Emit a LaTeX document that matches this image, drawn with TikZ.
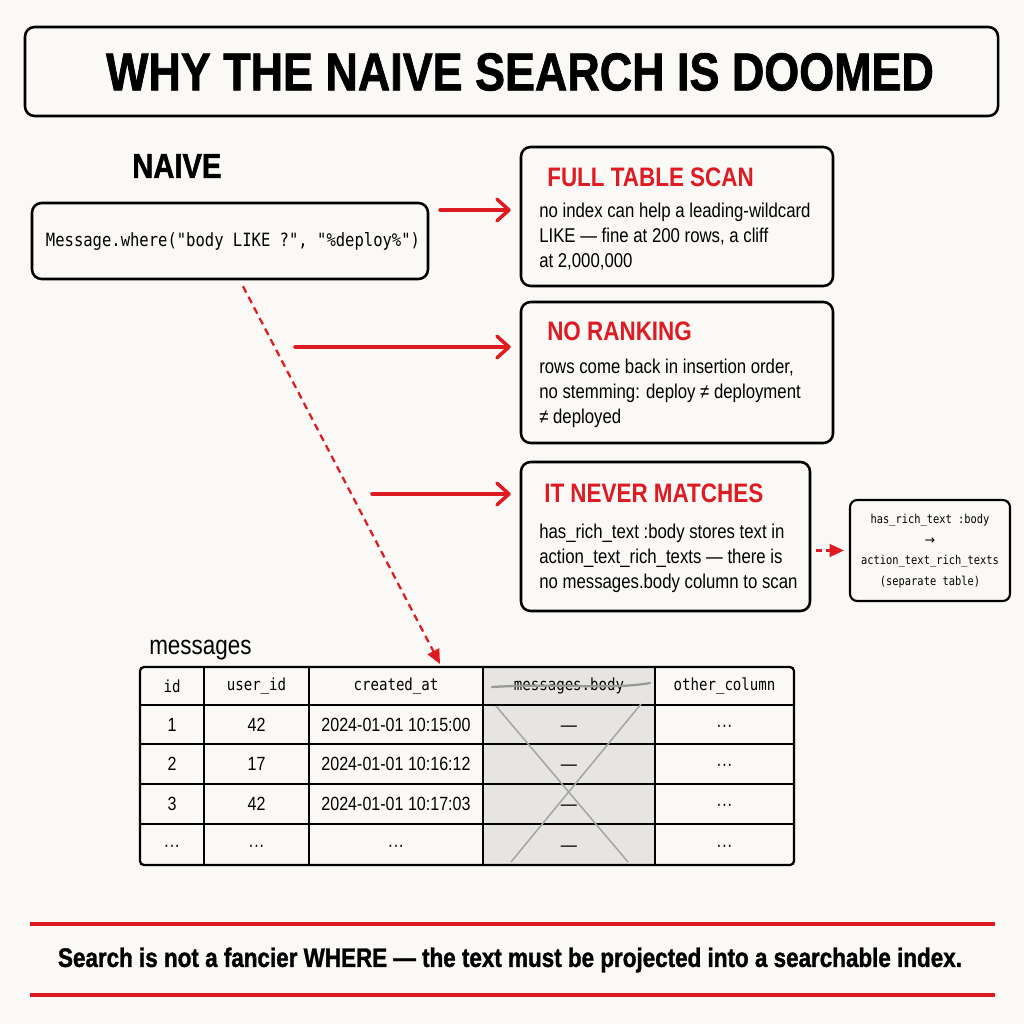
\documentclass[tikz,border=0pt]{standalone}
\usepackage{fontspec}
\setmainfont{Liberation Sans}
\setmonofont{DejaVu Sans Mono}
\newfontfamily\condfont[FakeStretch=0.84]{Liberation Sans}
\newfontfamily\heavyfont[FakeStretch=0.84, BoldFeatures={FakeBold=1.3}]{Liberation Sans}
\newfontfamily\codefont[FakeStretch=0.85]{DejaVu Sans Mono}
\newfontfamily\symfont{DejaVu Sans}
\usepackage{xcolor}
\usetikzlibrary{positioning,arrows.meta,calc}
\definecolor{paper}{HTML}{FAF9F5}
\definecolor{alarm}{HTML}{DE1A22}
\definecolor{cellgray}{HTML}{E6E5E1}
\def\px{0.25mm}

\begin{document}
\begin{tikzpicture}[x=0.25mm, y=-0.25mm,
  box/.style={draw, line width=1.8pt, rounded corners=2.4mm, inner sep=0pt},
  hd/.style={anchor=west, text=alarm, inner sep=0pt, font=\condfont\fontsize{19}{22}\selectfont\bfseries},
  txt/.style={anchor=west, align=left, inner sep=0pt, font=\condfont\fontsize{14.2}{17.8}\selectfont},
  cell/.style={inner sep=0pt, text height=9.6pt, text depth=0pt, font=\condfont\fontsize{13.6}{15}\selectfont},
  hcell/.style={inner sep=0pt, font=\codefont\fontsize{11.8}{14}\selectfont},
  arr/.style={alarm, line width=2.5pt, line cap=round, -{Straight Barb[length=3mm, width=5.4mm, round]}},
  darr/.style={alarm, line width=1.6pt, dash pattern=on 5pt off 3.5pt, -{Triangle[length=3.6mm, width=3.2mm]}}]
\fill[paper] (0,0) rectangle (1024,1024);
\useasboundingbox (0,0) rectangle (1024,1024);

\node[box, minimum width=973*\px, minimum height=89*\px] (title) at (511.5,71.5) {};
\node[font=\heavyfont\fontsize{38}{44}\selectfont\bfseries] (titletxt) at (520,72) {WHY THE NAIVE SEARCH IS DOOMED};

\node[anchor=west, inner sep=0pt, font=\heavyfont\fontsize{24.7}{28}\selectfont\bfseries] (naive) at (132,166) {NAIVE};
\node[box, minimum width=396*\px, minimum height=76*\px] (code) at (230,241) {};
\node[font=\codefont\fontsize{13}{15}\selectfont] (codetxt) at (233,241) {Message.where("body LIKE ?", "\%deploy\%")};

\node[box, minimum width=312*\px, minimum height=139*\px] (scan) at (677,216.5) {};
\node[hd] (scanhd) at (547,177) {FULL TABLE SCAN};
\node[txt] (scantxt) at (539,237) {no index can help a leading-wildcard\\LIKE — fine at 200 rows, a cliff\\at 2,000,000};

\node[box, minimum width=312*\px, minimum height=141*\px] (rank) at (677,372.5) {};
\node[hd] (rankhd) at (547,331) {NO RANKING};
\node[txt] (ranktxt) at (539,393) {rows come back in insertion order,\\no stemming: deploy ≠ deployment\\≠ deployed};

\node[box, minimum width=289*\px, minimum height=149*\px] (never) at (665.5,536.5) {};
\node[hd] (neverhd) at (544,493) {IT NEVER MATCHES};
\node[txt] (nevertxt) at (539,558) {has\_rich\_text :body stores text in\\action\_text\_rich\_texts — there is\\no messages.body column to scan};

\node[box, line width=1.5pt, rounded corners=1.8mm, minimum width=160*\px, minimum height=101*\px] (side) at (930,550.5) {};
\node[align=center, inner sep=0pt, font=\codefont\fontsize{8.7}{14.6}\selectfont] (sidetxt) at (930,551) {has\_rich\_text :body\\{\symfont\fontsize{9}{14.6}\selectfont →}\\action\_text\_rich\_texts\\(separate table)};

\coordinate (s1) at (440,210);
\coordinate (s2) at (295,347);
\coordinate (s3) at (372,494);
\foreach \a/\b in {s1/scan,s2/rank,s3/never} \draw[arr, shorten >=9*\px] (\a) -- (\a -| \b.west);
\coordinate (tabtop) at (440,664);
\draw[darr] ([shift={(13,6)}]code.south) -- (tabtop);
\draw[darr, dash pattern=on 4pt off 3pt] ([xshift=5*\px]never.east |- side.west) -- ([xshift=-5*\px]side.west);

\node[anchor=west, inner sep=0pt, font=\condfont\fontsize{19}{22}\selectfont] (tabname) at (149,650) {messages};
\fill[cellgray] (483,667) rectangle (655,865);
\foreach \y in {705,744,784,824} \draw[line width=1.1pt] (140,\y) -- (794,\y);
\foreach \x in {204,309,483,655} \draw[line width=1.1pt] (\x,667) -- (\x,865);
\draw[line width=1.6pt, rounded corners=1mm] (140,667) rectangle (794,865);
\foreach \x/\n/\t in {172/c1/id,256.5/c2/user\_id,396/c3/created\_at,569/c4/messages.body,724.5/c5/other\_column}
  \node[hcell] (h\n) at (\x,686) {\t};
\foreach \y/\r/\a/\b/\c in {724.5/1/1/42/2024-01-01 10:15:00,764/2/2/17/2024-01-01 10:16:12,804/3/3/42/2024-01-01 10:17:03,844.5/4/···/···/···} {
  \node[cell] (r\r a) at (172,\y) {\a};
  \node[cell] (r\r b) at (256.5,\y) {\b};
  \node[cell] (r\r c) at (396,\y) {\c};
  \node[cell] (r\r d) at (569,\y) {—};
  \node[cell] (r\r e) at (724.5,\y) {···};
}
\draw[gray!70, line width=1.1pt] (496,706) -- (628,862) (641,704) -- (511,862);
\draw[gray!80, line width=1.6pt, line cap=round] (492,687) .. controls (560,683) and (610,690) .. (650,683);

\draw[alarm, line width=2.2pt] (30,924) -- (995,924) (30,995) -- (995,995);
\node[font=\heavyfont\fontsize{19}{24}\selectfont\bfseries] (moral) at (510,960) {Search is not a fancier WHERE — the text must be projected into a searchable index.};
\end{tikzpicture}
\end{document}
